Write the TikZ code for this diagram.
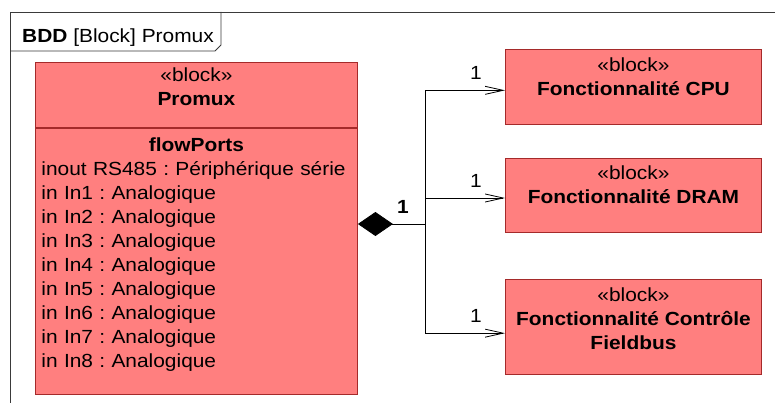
\documentclass[tikz,border=0pt]{standalone}
\usepackage{fontspec}
\setmainfont{Liberation Sans}[FakeStretch=1.1]
\usetikzlibrary{positioning,arrows.meta,calc}
\definecolor{blkfill}{HTML}{FF7F7F}
\definecolor{blkline}{HTML}{A52A2A}
\definecolor{frameline}{HTML}{3A3A3A}
\tikzset{
  txt/.style={font=\fontsize{19}{24}\selectfont\frenchspacing},
  blk/.style={txt, draw=blkline, fill=blkfill, line width=0.9pt, align=center, inner sep=0pt},
  ports/.style={txt, align=left, inner sep=0pt},
  frame/.style={draw=frameline, line width=0.8pt},
  mult/.style={txt, inner sep=0pt},
  compo/.style={draw=black, line width=0.8pt, {Diamond[length=35pt,width=24pt]}-},
  assoc/.style={draw=black, line width=0.8pt, -{Straight Barb[length=18pt,width=8pt]}},
}
\begin{document}
\begin{tikzpicture}[x=1pt, y=1pt]
\useasboundingbox (0,0) rectangle (775,-403);

% ---- diagram frame and its name tab ----
\draw[frame] (10,-403) |- (775,-12);
\node[txt, inner sep=0pt, anchor=base west] (title) at (22,-43) {\textbf{BDD} [Block] Promux};
\draw[frame] (10,-51) -- (215,-51) -- (221,-45) -- (221,-12);

% ---- Promux block: name compartment, flow port compartment ----
\node[blk, anchor=north west, minimum width=322, minimum height=65, text depth=16pt] (promux) at (35,-62)
  {«block»\\\textbf{Promux}};
\node[blk, below=0pt of promux, minimum width=322, minimum height=266] (ports) {};
\node[ports, text width=310, anchor=north] (flowports) at ($(ports.north)+(0,-10)$)
  {\makebox[\linewidth]{\textbf{flowPorts}}\\
   inout RS485 : Périphérique série\\
   in In1 : Analogique\\
   in In2 : Analogique\\
   in In3 : Analogique\\
   in In4 : Analogique\\
   in In5 : Analogique\\
   in In6 : Analogique\\
   in In7 : Analogique\\
   in In8 : Analogique};

% ---- part blocks ----
\node[blk, anchor=north west, minimum width=256, inner ysep=8pt, text depth=21pt] (cpu) at (505,-49)
  {«block»\\\textbf{Fonctionnalité CPU}};
\node[blk, below=33pt of cpu, minimum width=256, inner ysep=8pt, text depth=21pt] (dram)
  {«block»\\\textbf{Fonctionnalité DRAM}};
\node[blk, below=46pt of dram, minimum width=256, inner ysep=8pt, text depth=17pt] (fieldbus)
  {«block»\\\textbf{Fonctionnalité Contrôle}\\\textbf{Fieldbus}};

% ---- composition: one diamond, a bus to the three parts ----
\coordinate (hub) at (425,-224);
\draw[compo] (ports.east |- hub) -- (hub);
\node[mult] (m0) at ($(hub)+(-22,17)$) {\textbf{1}};
\foreach \b/\dy in {cpu/-3.5, dram/-2.5, fieldbus/-6} {
  \draw[assoc] (hub) |- ([yshift=\dy]\b.west);
  \node[mult] (m\b) at ($([yshift=\dy]\b.west)+(-29,17)$) {1};
}
\end{tikzpicture}
\end{document}
